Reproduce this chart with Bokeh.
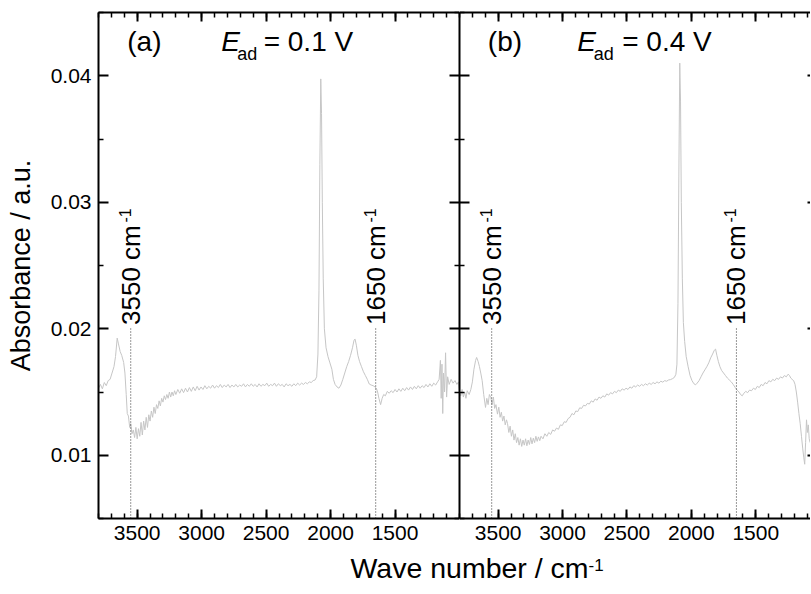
import math
from bokeh.plotting import figure
from bokeh.models import Range1d, LinearAxis, FixedTicker, Label
from bokeh.layouts import row, column
from bokeh.embed import file_html
from bokeh.resources import INLINE

FONT = "Liberation Sans"

# ---------------- data ----------------
wn_a = [3800, 3785, 3770, 3755, 3740, 3725, 3710, 3695, 3680, 3668, 3655, 3645, 3632, 3620, 3605,
        3595, 3585, 3577, 3568, 3558, 3550, 3540, 3530, 3520, 3510, 3500, 3490, 3480, 3470, 3460,
        3450, 3440, 3430, 3420, 3410, 3400, 3390, 3380, 3370, 3360, 3350, 3340, 3330, 3320, 3310,
        3300, 3290, 3280, 3270, 3260, 3250, 3240, 3230, 3220, 3210, 3200, 3185, 3170, 3155, 3140,
        3125, 3110, 3095, 3080, 3065, 3050, 3035, 3020, 3005, 2990, 2975, 2960, 2945, 2930, 2915,
        2900, 2885, 2870, 2855, 2840, 2825, 2810, 2795, 2780, 2765, 2750, 2735, 2720, 2705, 2690,
        2675, 2660, 2645, 2630, 2615, 2600, 2585, 2570, 2555, 2540, 2525, 2510, 2495, 2480, 2465,
        2450, 2435, 2420, 2405, 2390, 2375, 2360, 2345, 2330, 2315, 2300, 2285, 2270, 2255, 2240,
        2225, 2210, 2195, 2180, 2165, 2150, 2135, 2120, 2108, 2098, 2090, 2083, 2076, 2070, 2064,
        2057, 2048, 2035, 2020, 2005, 1990, 1978, 1965, 1950, 1935, 1920, 1905, 1890, 1875, 1860,
        1845, 1830, 1818, 1810, 1800, 1788, 1775, 1760, 1745, 1730, 1715, 1700, 1685, 1670, 1655,
        1645, 1635, 1625, 1612, 1600, 1588, 1575, 1560, 1545, 1530, 1515, 1500, 1485, 1470, 1455,
        1440, 1425, 1410, 1395, 1380, 1365, 1350, 1335, 1320, 1305, 1290, 1275, 1260, 1245, 1230,
        1215, 1200, 1185, 1170, 1158, 1148, 1142, 1136, 1130, 1124, 1116, 1108, 1100, 1092, 1080,
        1065, 1050, 1035, 1020, 1008, 1000]
abs_a = [0.01530, 0.01560, 0.01525, 0.01575, 0.01550, 0.01590, 0.01600, 0.01650, 0.01700, 0.01780,
         0.01926, 0.01880, 0.01820, 0.01790, 0.01734, 0.01650, 0.01480, 0.01330, 0.01310, 0.01220,
         0.01250, 0.01170, 0.01200, 0.01140, 0.01220, 0.01130, 0.01210, 0.01150, 0.01260, 0.01160,
         0.01270, 0.01200, 0.01300, 0.01220, 0.01320, 0.01270, 0.01350, 0.01300, 0.01380, 0.01330,
         0.01400, 0.01370, 0.01430, 0.01390, 0.01450, 0.01420, 0.01470, 0.01440, 0.01480, 0.01450,
         0.01500, 0.01460, 0.01500, 0.01470, 0.01510, 0.01480, 0.01520, 0.01490, 0.01525, 0.01495,
         0.01530, 0.01500, 0.01535, 0.01505, 0.01540, 0.01510, 0.01545, 0.01515, 0.01540, 0.01520,
         0.01550, 0.01525, 0.01545, 0.01530, 0.01555, 0.01530, 0.01550, 0.01535, 0.01560, 0.01535,
         0.01555, 0.01540, 0.01560, 0.01535, 0.01555, 0.01540, 0.01560, 0.01540, 0.01555, 0.01545,
         0.01565, 0.01540, 0.01560, 0.01545, 0.01565, 0.01545, 0.01560, 0.01540, 0.01565, 0.01545,
         0.01560, 0.01550, 0.01570, 0.01545, 0.01560, 0.01550, 0.01570, 0.01545, 0.01565, 0.01550,
         0.01560, 0.01540, 0.01565, 0.01550, 0.01560, 0.01545, 0.01565, 0.01550, 0.01570, 0.01555,
         0.01570, 0.01560, 0.01575, 0.01565, 0.01580, 0.01575, 0.01590, 0.01595, 0.01620, 0.01800,
         0.02300, 0.03300, 0.03975, 0.03700, 0.03000, 0.02400, 0.02000, 0.01850, 0.01780, 0.01730,
         0.01680, 0.01600, 0.01560, 0.01540, 0.01530, 0.01555, 0.01600, 0.01650, 0.01700, 0.01740,
         0.01790, 0.01850, 0.01910, 0.01918, 0.01870, 0.01790, 0.01740, 0.01700, 0.01660, 0.01630,
         0.01600, 0.01563, 0.01555, 0.01550, 0.01540, 0.01530, 0.01500, 0.01450, 0.01400, 0.01450,
         0.01480, 0.01470, 0.01505, 0.01490, 0.01510, 0.01495, 0.01520, 0.01500, 0.01525, 0.01505,
         0.01530, 0.01510, 0.01535, 0.01515, 0.01540, 0.01520, 0.01545, 0.01525, 0.01550, 0.01530,
         0.01550, 0.01535, 0.01560, 0.01540, 0.01565, 0.01545, 0.01570, 0.01555, 0.01580, 0.01600,
         0.01750, 0.01450, 0.01720, 0.01330, 0.01650, 0.01500, 0.01810, 0.01460, 0.01620, 0.01560,
         0.01600, 0.01570, 0.01590, 0.01560, 0.01580, 0.01510]

wn_b = [3800, 3790, 3780, 3770, 3760, 3750, 3740, 3725, 3712, 3700, 3688, 3675, 3667, 3655, 3645,
        3635, 3624, 3612, 3598, 3588, 3578, 3568, 3557, 3547, 3537, 3527, 3517, 3505, 3495, 3485,
        3475, 3465, 3455, 3445, 3435, 3427, 3417, 3407, 3397, 3387, 3377, 3367, 3357, 3347, 3337,
        3327, 3317, 3307, 3297, 3287, 3277, 3267, 3257, 3247, 3237, 3227, 3217, 3207, 3197, 3187,
        3177, 3167, 3152, 3137, 3122, 3107, 3092, 3077, 3062, 3047, 3032, 3017, 3002, 2987, 2972,
        2957, 2942, 2927, 2912, 2897, 2882, 2867, 2852, 2837, 2822, 2807, 2792, 2777, 2762, 2747,
        2732, 2717, 2702, 2687, 2672, 2657, 2642, 2627, 2612, 2597, 2582, 2567, 2552, 2537, 2522,
        2507, 2492, 2477, 2462, 2447, 2432, 2417, 2402, 2387, 2372, 2357, 2342, 2327, 2312, 2297,
        2282, 2267, 2252, 2237, 2222, 2207, 2192, 2177, 2162, 2147, 2132, 2120, 2112, 2104, 2097,
        2090, 2084, 2078, 2070, 2062, 2052, 2040, 2025, 2010, 1995, 1980, 1967, 1955, 1940, 1925,
        1910, 1895, 1880, 1865, 1850, 1835, 1822, 1812, 1802, 1790, 1778, 1765, 1750, 1735, 1720,
        1705, 1690, 1675, 1660, 1645, 1630, 1618, 1605, 1592, 1578, 1563, 1548, 1533, 1518, 1503,
        1488, 1473, 1458, 1443, 1428, 1413, 1398, 1383, 1368, 1353, 1338, 1323, 1308, 1293, 1278,
        1263, 1248, 1238, 1228, 1218, 1206, 1195, 1185, 1175, 1165, 1155, 1145, 1135, 1127, 1120,
        1113, 1106, 1099, 1092, 1085, 1078]
abs_b = [0.01500, 0.01470, 0.01520, 0.01460, 0.01500, 0.01450, 0.01510, 0.01480, 0.01520, 0.01580,
         0.01680, 0.01750, 0.01773, 0.01740, 0.01700, 0.01650, 0.01590, 0.01480, 0.01378, 0.01450,
         0.01400, 0.01480, 0.01456, 0.01400, 0.01460, 0.01370, 0.01400, 0.01325, 0.01380, 0.01300,
         0.01340, 0.01270, 0.01310, 0.01240, 0.01280, 0.01250, 0.01180, 0.01230, 0.01150, 0.01200,
         0.01120, 0.01170, 0.01100, 0.01140, 0.01080, 0.01130, 0.01070, 0.01120, 0.01080, 0.01130,
         0.01075, 0.01120, 0.01085, 0.01140, 0.01090, 0.01135, 0.01100, 0.01150, 0.01110, 0.01145,
         0.01115, 0.01150, 0.01130, 0.01170, 0.01150, 0.01180, 0.01165, 0.01200, 0.01190, 0.01215,
         0.01205, 0.01240, 0.01235, 0.01265, 0.01260, 0.01290, 0.01300, 0.01330, 0.01320, 0.01350,
         0.01345, 0.01375, 0.01370, 0.01395, 0.01390, 0.01410, 0.01405, 0.01430, 0.01420, 0.01445,
         0.01435, 0.01460, 0.01450, 0.01470, 0.01460, 0.01485, 0.01475, 0.01495, 0.01485, 0.01505,
         0.01495, 0.01515, 0.01505, 0.01525, 0.01515, 0.01530, 0.01520, 0.01540, 0.01530, 0.01550,
         0.01540, 0.01555, 0.01545, 0.01560, 0.01550, 0.01565, 0.01555, 0.01570, 0.01560, 0.01575,
         0.01565, 0.01580, 0.01570, 0.01585, 0.01578, 0.01590, 0.01585, 0.01595, 0.01598, 0.01605,
         0.01615, 0.01640, 0.01720, 0.02200, 0.03200, 0.04100, 0.03800, 0.03000, 0.02400, 0.02050,
         0.01900, 0.01780, 0.01700, 0.01630, 0.01590, 0.01565, 0.01557, 0.01570, 0.01590, 0.01620,
         0.01650, 0.01675, 0.01700, 0.01730, 0.01770, 0.01800, 0.01830, 0.01839, 0.01790, 0.01740,
         0.01700, 0.01670, 0.01650, 0.01630, 0.01610, 0.01595, 0.01580, 0.01560, 0.01536, 0.01515,
         0.01500, 0.01480, 0.01470, 0.01490, 0.01505, 0.01495, 0.01515, 0.01510, 0.01530, 0.01520,
         0.01545, 0.01535, 0.01560, 0.01550, 0.01575, 0.01565, 0.01590, 0.01580, 0.01600, 0.01590,
         0.01610, 0.01600, 0.01620, 0.01610, 0.01630, 0.01620, 0.01641, 0.01630, 0.01610, 0.01600,
         0.01590, 0.01560, 0.01500, 0.01420, 0.01330, 0.01250, 0.01150, 0.01050, 0.00980, 0.00929,
         0.01100, 0.01280, 0.01180, 0.01240, 0.01130, 0.01100]

marker_wn = [3550, 1650]
marker_text = ["3550 cm", "1650 cm"]
marker_top = 0.0201
panel_tag = ["(a)", "(b)"]
panel_potential = ["= 0.1 V", "= 0.4 V"]
x_major = [3500, 3000, 2500, 2000, 1500]
x_minor = [3800, 3700, 3600, 3500, 3400, 3300, 3200, 3100, 3000, 2900, 2800, 2700, 2600, 2500,
           2400, 2300, 2200, 2100, 2000, 1900, 1800, 1700, 1600, 1500, 1400, 1300, 1200, 1100, 1000]
y_major = [0.01, 0.02, 0.03, 0.04]
y_minor = [0.005, 0.015, 0.025, 0.035, 0.045]

# label anchor positions (data coords) per panel: tag x, E x, subscript x, "= ..." x
title_pos = [(3577, 2847, 2723, 2519), (3580, 2886, 2757, 2537)]


def style_axis(ax, labels, tick_in=9, minor_in=5, line=True):
    ax.major_tick_in = tick_in
    ax.major_tick_out = 0
    ax.minor_tick_in = minor_in
    ax.minor_tick_out = 0
    ax.axis_line_width = 2
    ax.axis_line_color = "black" if line else None
    ax.major_tick_line_width = 2
    ax.minor_tick_line_width = 1.5
    if labels:
        ax.major_label_text_font = FONT
        ax.major_label_text_font_size = "21px"
        ax.major_label_text_color = "black"
        ax.major_label_standoff = 7
    else:
        ax.major_label_text_font_size = "0px"
        ax.major_label_text_color = None
        ax.major_label_standoff = 0


def make_panel(idx, wn, ab, x_end, width, left_border, show_ylabels):
    p = figure(width=width, height=552, x_range=Range1d(3800, x_end),
               y_range=Range1d(0.005, 0.045), output_backend="svg",
               toolbar_location=None, min_border_left=left_border, min_border_right=0,
               min_border_top=12, min_border_bottom=34)
    p.grid.visible = False
    p.outline_line_color = None
    p.background_fill_color = "white"
    p.border_fill_color = "white"

    xt = FixedTicker(ticks=x_major, minor_ticks=x_minor)
    yt = FixedTicker(ticks=y_major, minor_ticks=y_minor)
    p.xaxis.ticker = xt
    p.yaxis.ticker = yt
    style_axis(p.xaxis[0], True)
    style_axis(p.yaxis[0], show_ylabels, tick_in=10)
    if show_ylabels:
        p.yaxis.axis_label = "Absorbance / a.u."
        p.yaxis.axis_label_text_font = FONT
        p.yaxis.axis_label_text_font_size = "27px"
        p.yaxis.axis_label_text_font_style = "normal"
        p.yaxis.axis_label_text_color = "black"
        p.yaxis.axis_label_standoff = 12

    top = LinearAxis(ticker=xt)
    style_axis(top, False)
    p.add_layout(top, "above")
    right = LinearAxis(ticker=yt)
    if idx == 0:
        style_axis(right, False, tick_in=10)
    else:
        style_axis(right, False, tick_in=3, minor_in=0, line=False)
    p.add_layout(right, "right")

    p.line(wn, ab, line_color="#c6c6c6", line_width=1)

    p.segment(x0=marker_wn, y0=[0.005] * len(marker_wn), x1=marker_wn,
              y1=[marker_top] * len(marker_wn), line_color="#333333",
              line_width=1, line_dash="1 2")
    for xm, txt in zip(marker_wn, marker_text):
        p.add_layout(Label(x=xm, y=0.0203, text=txt, angle=math.pi / 2,
                           text_align="left", text_baseline="middle",
                           text_font=FONT, text_font_size="26px", text_color="black"))
        p.add_layout(Label(x=xm, y=0.0284, text="-1", angle=math.pi / 2, x_offset=-6,
                           text_align="left", text_baseline="middle",
                           text_font=FONT, text_font_size="16px", text_color="black"))

    tx, ex, sx, qx = title_pos[idx]
    p.add_layout(Label(x=tx, y=0.0415, text=panel_tag[idx], text_font=FONT,
                       text_font_size="28px", text_color="black"))
    p.add_layout(Label(x=ex, y=0.0415, text="E", text_font=FONT, text_font_style="italic",
                       text_font_size="28px", text_color="black"))
    p.add_layout(Label(x=sx, y=0.0409, text="ad", text_font=FONT,
                       text_font_size="18px", text_color="black"))
    p.add_layout(Label(x=qx, y=0.0415, text=panel_potential[idx], text_font=FONT,
                       text_font_size="28px", text_color="black"))
    return p


p1 = make_panel(0, wn_a, abs_a, 1000, 459, 98, True)
p2 = make_panel(1, wn_b, abs_b, 1075, 351, 0, False)

p3 = figure(width=810, height=40, x_range=Range1d(0, 810), y_range=Range1d(0, 40),
            output_backend="svg", toolbar_location=None, x_axis_type=None,
            y_axis_type=None, min_border=0, min_border_left=0, min_border_right=0,
            min_border_top=0, min_border_bottom=0)
p3.grid.visible = False
p3.outline_line_color = None
p3.add_layout(Label(x=350, y=9, text="Wave number / cm", text_font=FONT,
                    text_font_size="28.5px", text_color="black"))
p3.add_layout(Label(x=588, y=22, text="-1", text_font=FONT,
                    text_font_size="17px", text_color="black"))

layout = column(row(p1, p2), p3)

open("out.html", "w").write(file_html(layout, INLINE))
